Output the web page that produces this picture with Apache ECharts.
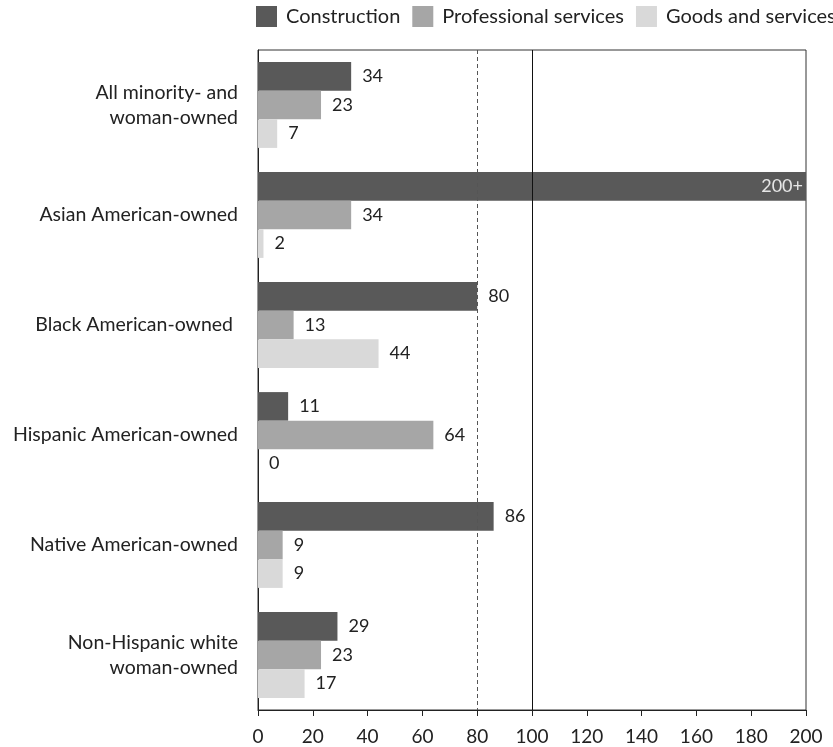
<!DOCTYPE html>
<html><head><meta charset="utf-8">
<script src="https://cdn.jsdelivr.net/npm/echarts@6/dist/echarts.min.js"></script>
<style>html,body{margin:0;padding:0;background:#fff}#c{width:833px;height:747px}</style>
</head><body><div id="c"></div>
<script>
const categories = ["All minority- and\nwoman-owned","Asian American-owned","Black American-owned ","Hispanic American-owned","Native American-owned","Non-Hispanic white\nwoman-owned"];
const construction = [34, 200, 80, 11, 86, 29];
const constructionLabels = ["34","200+","80","11","86","29"];
const professional = [23, 34, 13, 64, 9, 23];
const goods = [7, 2, 44, 0, 9, 17];
const xTicks = [0,20,40,60,80,100,120,140,160,180,200];
const refDashed = 80, refSolid = 100;

const font = 'Lato';
const chart = echarts.init(document.getElementById('c'));
const lbl = {show:true, position:'right', distance:11, color:'#222', fontSize:18, fontFamily:font};
const constructionData = construction.map((v,i)=> i===1
  ? {value:v, label:{position:'insideRight', distance:3, color:'#e6e6e6'}}
  : v);
chart.setOption({
  animation:false,
  textStyle:{fontFamily:font},
  legend:{left:256, top:6, padding:0, width:1000, itemWidth:21, itemHeight:21, itemGap:12,
    textStyle:{fontSize:20, color:'#222', fontFamily:font, padding:[0,0,0,4]}, icon:'rect'},
  grid:{left:258, right:27, top:50, bottom:37, show:true, borderColor:'#333', borderWidth:1,
    outerBoundsMode:'none', containLabel:false},
  xAxis:{type:'value', min:0, max:200, interval:20,
    axisLine:{show:true, lineStyle:{color:'#222'}}, axisTick:{show:true, length:6, lineStyle:{color:'#222'}},
    splitLine:{show:false},
    axisLabel:{color:'#222', fontSize:19, margin:17, fontFamily:font}},
  yAxis:{type:'category', data:categories, inverse:true,
    axisLine:{show:true, lineStyle:{color:'#222'}}, axisTick:{show:false},
    axisLabel:{color:'#222', fontSize:19.5, margin:20, lineHeight:25, fontFamily:font, align:'right'}},
  series:[
    {name:'Construction', type:'bar', data:constructionData, barGap:'0%', barCategoryGap:'22%',
      itemStyle:{color:'#595959'},
      label:Object.assign({}, lbl, {formatter:p=>constructionLabels[p.dataIndex]}),
      markLine:{silent:true, symbol:'none', label:{show:false},
        data:[{xAxis:refDashed, lineStyle:{type:[4,3], color:'#555', width:1}},
              {xAxis:refSolid, lineStyle:{type:'solid', color:'#111', width:1}}]}},
    {name:'Professional services', type:'bar', data:professional, barGap:'0%', barCategoryGap:'22%',
      itemStyle:{color:'#a6a6a6'}, label:lbl},
    {name:'Goods and services', type:'bar', data:goods, barGap:'0%', barCategoryGap:'22%',
      itemStyle:{color:'#d9d9d9'}, label:lbl}
  ]
});
</script></body></html>
